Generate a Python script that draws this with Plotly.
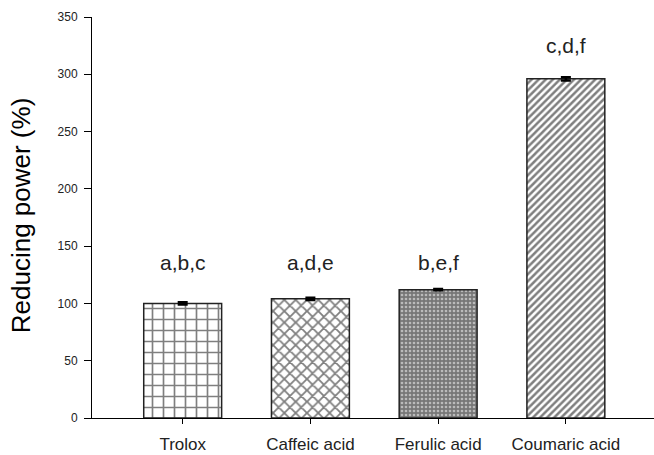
import plotly.graph_objects as go

# Reducing power of the reference antioxidant and the phenolic acids
compounds = ["Trolox", "Caffeic acid", "Ferulic acid", "Coumaric acid"]
reducing_power = [100, 104, 112, 296]
sd = [1.0, 1.0, 0.6, 1.5]
letters = ["a,b,c", "a,d,e", "b,e,f", "c,d,f"]

# Fill pattern of each bar (shape, spacing, solidity, ink, paper)
patterns = [
    ("+", 11, 0.28, "black", "white"),
    ("x", 8, 0.4, "black", "white"),
    (".", 4, 0.35, "white", "#777777"),
    ("/", 5, 0.5, "black", "white"),
]

fig = go.Figure()
fig.add_trace(go.Bar(
    x=compounds,
    y=reducing_power,
    width=0.61,
    marker=dict(
        color="white",
        line=dict(color="#222", width=1.5),
        pattern=dict(
            shape=[p[0] for p in patterns],
            size=[p[1] for p in patterns],
            solidity=[p[2] for p in patterns],
            fgcolor=[p[3] for p in patterns],
            bgcolor=[p[4] for p in patterns],
            fillmode="overlay",
        ),
    ),
    error_y=dict(type="data", array=sd, visible=True, color="black",
                 thickness=2.5, width=5),
    showlegend=False,
))

# Significance letters above the bars
letter_y = [136, 136, 136, 325]
for c, t, yy in zip(compounds, letters, letter_y):
    fig.add_annotation(x=c, y=yy, text=t, showarrow=False,
                       font=dict(family="Arial, Liberation Sans", size=21, color="#222"))

# Vertical axis title
fig.add_annotation(xref="paper", yref="paper", x=-0.125, y=0.505,
                   xanchor="center", yanchor="middle", textangle=-90,
                   text="Reducing power (%)", showarrow=False,
                   font=dict(family="Arial, Liberation Sans", size=26, color="black"))

fig.update_layout(
    width=654, height=455,
    margin=dict(l=92, r=0, t=17, b=37),
    paper_bgcolor="white", plot_bgcolor="white",
    font=dict(family="Arial, Liberation Sans", color="#222"),
    xaxis=dict(
        range=[-0.71, 3.69],
        showline=True, linecolor="black", linewidth=1,
        ticks="outside", ticklen=5, tickcolor="black",
        ticklabelstandoff=6,
        tickfont=dict(size=17, color="#222"),
        showgrid=False, zeroline=False,
    ),
    yaxis=dict(
        range=[0, 350],
        tickvals=[0, 50, 100, 150, 200, 250, 300, 350],
        showline=True, linecolor="black", linewidth=1,
        ticks="outside", ticklen=7, tickcolor="black",
        ticklabelstandoff=4,
        tickfont=dict(size=12, color="#222"),
        showgrid=False, zeroline=False,
    ),
)

fig.write_html("out.html")
